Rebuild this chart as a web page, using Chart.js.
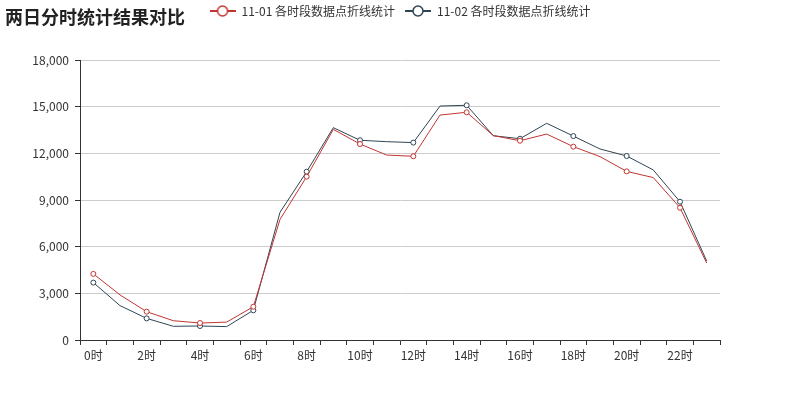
<!DOCTYPE html>
<html>
<head>
<meta charset="utf-8">
<script src="https://cdn.jsdelivr.net/npm/chart.js@4"></script>
<style>
  html, body { margin: 0; padding: 0; background: #fff; }
  #wrap { position: relative; width: 800px; height: 400px; }
  #titulo {
    position: absolute; left: 5px; top: 3px;
    font: bold 18px "Noto Sans CJK SC", sans-serif; color: #222;
  }
</style>
</head>
<body>
<div id="wrap">
  <canvas id="grafico" width="800" height="400"></canvas>
  <div id="titulo">两日分时统计结果对比</div>
</div>
<script>
const horas = ["0时","1时","2时","3时","4时","5时","6时","7时","8时","9时","10时","11时",
  "12时","13时","14时","15时","16时","17时","18时","19时","20时","21时","22时","23时"];
const dia1 = [4250, 2900, 1820, 1240, 1090, 1150, 2140, 7750, 10500, 13540, 12600, 11890,
  11810, 14460, 14640, 13140, 12810, 13240, 12430, 11790, 10840, 10440, 8500, 4950];
const dia2 = [3690, 2210, 1390, 880, 900, 860, 1910, 8210, 10820, 13650, 12840, 12750,
  12690, 15040, 15090, 13130, 12940, 13930, 13110, 12280, 11830, 10930, 8890, 5080];
const nomes = ["11-01 各时段数据点折线统计", "11-02 各时段数据点折线统计"];
const cores = ["#c23531", "#2f4554"];

const fonte = '"Noto Sans CJK SC", sans-serif';

// icone da legenda: linha + circulo vazio
function icone(cor) {
  const c = document.createElement("canvas");
  c.width = 26; c.height = 14;
  const ctx = c.getContext("2d");
  ctx.strokeStyle = cor;
  ctx.lineWidth = 2;
  ctx.beginPath(); ctx.moveTo(0, 7); ctx.lineTo(26, 7); ctx.stroke();
  ctx.fillStyle = "#fff";
  ctx.lineWidth = 1.5;
  ctx.beginPath(); ctx.arc(13, 7, 5, 0, Math.PI * 2); ctx.fill(); ctx.stroke();
  return c;
}

// so mostra os pontos nas horas pares
const raios = horas.map((h, i) => i % 2 === 0 ? 2.5 : 0);

// legenda ocupa 60px no topo, mas desenhada mais para cima
const ajusteLegenda = {
  id: "ajusteLegenda",
  beforeInit(chart) {
    const fitOrig = chart.legend.fit;
    chart.legend.fit = function () {
      fitOrig.bind(chart.legend)();
      this.height = 60;
    };
  },
  afterLayout(chart) {
    chart.legend.top = -5;
  }
};

new Chart(document.getElementById("grafico"), {
  type: "line",
  data: {
    labels: horas,
    datasets: [dia1, dia2].map((d, k) => ({
      label: nomes[k],
      data: d,
      borderColor: cores[k],
      backgroundColor: "#fff",
      borderWidth: 1,
      pointRadius: raios,
      pointHoverRadius: raios,
      pointBorderWidth: 1,
      pointBackgroundColor: "#fff",
      pointBorderColor: cores[k],
      tension: 0
    }))
  },
  options: {
    responsive: false,
    animation: false,
    layout: { padding: 0 },
    plugins: {
      title: { display: false },
      tooltip: { enabled: false },
      legend: {
        position: "top",
        align: "center",
        labels: {
          usePointStyle: true,
          pointStyleWidth: 26,
          padding: 10,
          color: "#333",
          font: { family: fonte, size: 12 },
          generateLabels(chart) {
            return chart.data.datasets.map((ds, i) => ({
              text: ds.label,
              pointStyle: icone(cores[i]),
              fillStyle: "#fff",
              strokeStyle: cores[i],
              lineWidth: 0,
              fontColor: "#333",
              hidden: false,
              datasetIndex: i
            }));
          }
        }
      }
    },
    scales: {
      x: {
        offset: true,
        afterFit(scale) { scale.height = 60; },
        border: { color: "#333", width: 1 },
        grid: {
          offset: true,
          drawOnChartArea: false,
          drawTicks: true,
          tickLength: 5,
          tickColor: "#333"
        },
        ticks: {
          autoSkip: false,
          maxRotation: 0,
          padding: 3,
          color: "#333",
          font: { family: fonte, size: 12 },
          callback(v, i) { return i % 2 === 0 ? horas[i] : ""; }
        }
      },
      y: {
        min: 0,
        max: 18000,
        afterFit(scale) { scale.width = 80; },
        border: { color: "#333", width: 1 },
        grid: {
          color: "#ccc",
          tickLength: 5,
          tickColor: "#333"
        },
        ticks: {
          stepSize: 3000,
          padding: 6,
          color: "#333",
          font: { family: fonte, size: 12 },
          callback(v) { return v.toLocaleString("en-US"); }
        }
      },
      // eixo vazio a direita so para reservar a margem
      margem: {
        position: "right",
        display: true,
        min: 0,
        max: 1,
        afterFit(scale) { scale.width = 80; },
        border: { display: false },
        grid: { display: false },
        ticks: { display: false }
      }
    }
  },
  plugins: [ajusteLegenda]
});
</script>
</body>
</html>
